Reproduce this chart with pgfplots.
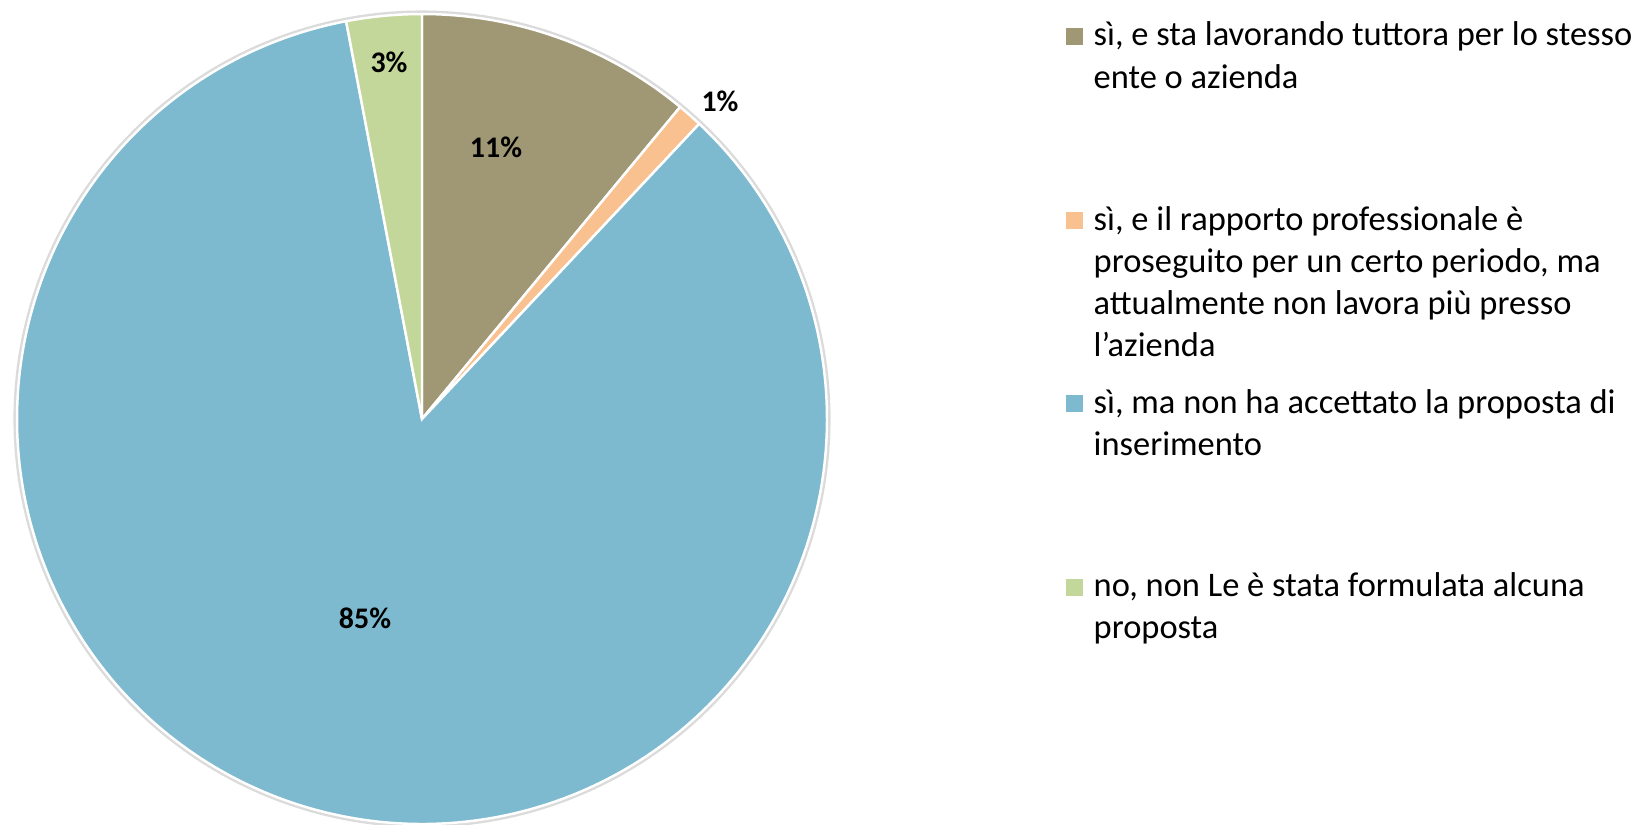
\documentclass[border=0pt]{standalone}
\usepackage{pgfplots}
\pgfplotsset{compat=1.18}
\usepackage{pgfplotstable}
\usepackage{fontspec}
\setmainfont{Carlito}
\definecolor{cA}{HTML}{A09874}
\definecolor{cB}{HTML}{F9C090}
\definecolor{cC}{HTML}{7DB9CF}
\definecolor{cD}{HTML}{C4D79B}

\pgfplotstableread{
idx value
0 11
1 1
2 85
3 3
}\piedata

\begin{document}
\begin{tikzpicture}
\pgfplotstablegetelem{0}{value}\of\piedata \edef\vA{\pgfplotsretval}
\pgfplotstablegetelem{1}{value}\of\piedata \edef\vB{\pgfplotsretval}
\pgfplotstablegetelem{2}{value}\of\piedata \edef\vC{\pgfplotsretval}
\pgfplotstablegetelem{3}{value}\of\piedata \edef\vD{\pgfplotsretval}
\pgfmathsetmacro\aA{0}
\pgfmathsetmacro\aB{\aA+3.6*\vA}
\pgfmathsetmacro\aC{\aB+3.6*\vB}
\pgfmathsetmacro\aD{\aC+3.6*\vC}
\pgfmathsetmacro\aE{\aD+3.6*\vD}
\def\cx{422}\def\cy{419}\def\pr{405}
\begin{axis}[width=16.45cm,height=8.24cm,scale only axis,
  xmin=0,xmax=1645,ymin=0,ymax=824,y dir=reverse,
  axis lines=none,ticks=none,clip=false]
\addplot[draw=black!14,line width=1.2pt,domain=0:360,samples=240,variable=\t]
  ({\cx+(\pr+1.5)*sin(\t)},{\cy-(\pr+1.5)*cos(\t)});
\addplot[fill=cA,draw=white,line width=0.7pt,domain=\aA:\aB,samples=60,variable=\t]
  ({\cx+\pr*sin(\t)},{\cy-\pr*cos(\t)}) -- (axis cs:\cx,\cy) -- cycle;
\addplot[fill=cB,draw=white,line width=0.7pt,domain=\aB:\aC,samples=10,variable=\t]
  ({\cx+\pr*sin(\t)},{\cy-\pr*cos(\t)}) -- (axis cs:\cx,\cy) -- cycle;
\addplot[fill=cC,draw=white,line width=0.7pt,domain=\aC:\aD,samples=300,variable=\t]
  ({\cx+\pr*sin(\t)},{\cy-\pr*cos(\t)}) -- (axis cs:\cx,\cy) -- cycle;
\addplot[fill=cD,draw=white,line width=0.7pt,domain=\aD:\aE,samples=20,variable=\t]
  ({\cx+\pr*sin(\t)},{\cy-\pr*cos(\t)}) -- (axis cs:\cx,\cy) -- cycle;

\begin{scope}[every node/.style={font=\fontsize{8.5}{10}\selectfont\bfseries,inner sep=0pt}]
\node at (axis cs:496,147) {11\%};
\node at (axis cs:720,101) {1\%};
\node at (axis cs:365,618) {85\%};
\node at (axis cs:389,62) {3\%};
\end{scope}

\fill[cA] (axis cs:1066,28) rectangle (axis cs:1083,45);
\fill[cB] (axis cs:1066,212) rectangle (axis cs:1083,229);
\fill[cC] (axis cs:1066,395) rectangle (axis cs:1083,412);
\fill[cD] (axis cs:1066,579) rectangle (axis cs:1083,596);
\begin{scope}[every node/.style={font=\fontsize{9.8}{12}\selectfont,inner sep=0pt,anchor=base west}]
\node at (axis cs:1093,45) {sì, e sta lavorando tuttora per lo stesso};
\node at (axis cs:1093,88) {ente o azienda};
\node at (axis cs:1093,230) {sì, e il rapporto professionale è};
\node at (axis cs:1093,272.3) {proseguito per un certo periodo, ma};
\node at (axis cs:1093,314.6) {attualmente non lavora più presso};
\node at (axis cs:1093,356.9) {l’azienda};
\node at (axis cs:1093,413) {sì, ma non ha accettato la proposta di};
\node at (axis cs:1093,455) {inserimento};
\node at (axis cs:1093,596) {no, non Le è stata formulata alcuna};
\node at (axis cs:1093,638) {proposta};
\end{scope}
\end{axis}
\pgfresetboundingbox
\path (current axis.south west) rectangle (current axis.north east);
\end{tikzpicture}
\end{document}
